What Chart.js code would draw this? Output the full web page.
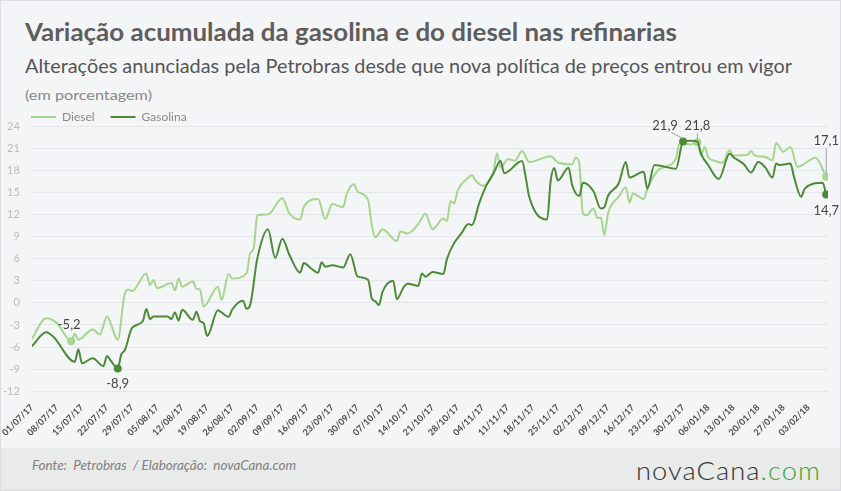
<!DOCTYPE html>
<html lang="pt-BR">
<head>
<meta charset="utf-8">
<title>Variação acumulada da gasolina e do diesel</title>
<script src="https://cdn.jsdelivr.net/npm/chart.js@4.4.1/dist/chart.umd.min.js"></script>
<style>
  body { margin: 0; background: #fff; }
  #quadro { position: relative; width: 841px; height: 491px; box-sizing: border-box; border: 1px solid #dcdde0; background: #f4f5f7; overflow: hidden; font-family: Lato, sans-serif; }
  .txt { position: absolute; white-space: nowrap; line-height: 1; transform-origin: 0 0; }
  #titulo { left: 24px; top: 19px; font-size: 24px; font-weight: 700; color: #5d5d5d; }
  #subtitulo { left: 24px; top: 55px; font-size: 19px; color: #555; }
  #unidade { left: 24px; top: 87px; font-size: 14px; color: #888; }
  #area { position: absolute; left: -11px; top: 94px; width: 851px; height: 352px; }
  #rodape { position: absolute; left: 0; top: 447px; width: 100%; height: 42px; background: #e9eaea; }
  #fonte { left: 31px; top: 459px; font-size: 12.5px; font-style: italic; color: #808080; }
  #logo { left: 635px; top: 457px; font-size: 25px; font-weight: 300; color: #333; letter-spacing: 1px; }
  #logo span { color: #3fa535; }
</style>
</head>
<body>
<div id="quadro">
  <div id="titulo" class="txt" data-w="652">Variação acumulada da gasolina e do diesel nas refinarias</div>
  <div id="subtitulo" class="txt" data-w="767">Alterações anunciadas pela Petrobras desde que nova política de preços entrou em vigor</div>
  <div id="unidade" class="txt" data-w="127">(em porcentagem)</div>
  <div id="area"><canvas id="grafico"></canvas></div>
  <div id="rodape"></div>
  <div id="fonte" class="txt" data-w="264">Fonte:&nbsp; Petrobras&nbsp; / Elaboração:&nbsp; novaCana.com</div>
  <div id="logo" class="txt" data-w="185">novaCana<span>.com</span></div>
</div>
<script>
// semanas no eixo x (dias contados a partir de 01/07/17)
const rotulos = ['01/07/17', '08/07/17', '15/07/17', '22/07/17', '29/07/17', '05/08/17', '12/08/17', '19/08/17',
  '26/08/17', '02/09/17', '09/09/17', '16/09/17', '23/09/17', '30/09/17', '07/10/17', '14/10/17', '21/10/17',
  '28/10/17', '04/11/17', '11/11/17', '18/11/17', '25/11/17', '02/12/17', '09/12/17', '16/12/17', '23/12/17',
  '30/12/17', '06/01/18', '13/01/18', '20/01/18', '27/01/18', '03/02/18'];

const diasDiesel = [0, 4, 7, 11, 12, 13, 17, 19, 21, 24, 26, 27, 28, 32, 33, 34, 35, 39, 40, 41, 42, 45, 46, 47, 48,
  52, 53, 55, 56, 60, 61, 62, 63, 66, 70, 72, 75, 76, 80, 82, 84, 87, 88, 90, 91, 94, 95, 96, 98, 102, 103, 105,
  108, 110, 112, 115, 116, 117, 118, 119, 122, 123, 124, 126, 129, 130, 131, 133, 135, 137, 139, 145, 147, 151,
  152, 153, 154, 155, 157, 158, 159, 160, 161, 164, 166, 167, 168, 171, 172, 175, 177, 180, 181, 184, 186, 187,
  188, 189, 191, 193, 195, 196, 200, 201, 202, 205, 207, 208, 210, 212, 214, 219, 222];
const diesel = [-4.9, -2.1, -2.75, -5.2, -4.2, -5.0, -3.6, -4.3, -1.85, -5.0, 1.3, 1.8, 1.6, 4.0, 2.4, 3.1, 2.0,
  2.7, 1.7, 3.3, 2.2, 2.9, 1.9, 1.8, -0.5, 2.2, 0.4, 3.9, 3.3, 4.0, 6.7, 7.4, 11.9, 12.0, 14.2, 12.1, 11.3, 13.0,
  14.1, 11.4, 13.4, 13.0, 14.8, 16.1, 15.1, 13.9, 10.5, 8.9, 10.0, 8.4, 9.7, 9.4, 10.7, 12.1, 10.0, 11.45, 11.1,
  13.8, 13.5, 15.2, 17.0, 17.3, 16.6, 15.9, 17.8, 20.3, 18.3, 19.5, 19.3, 20.6, 19.1, 19.9, 19.05, 18.8, 19.7,
  18.9, 12.1, 11.9, 12.8, 11.5, 11.6, 9.2, 12.1, 14.4, 15.7, 13.6, 14.85, 14.1, 15.5, 18.0, 18.45, 19.6, 21.6,
  21.5, 21.8, 20.0, 21.15, 19.8, 19.25, 19.0, 20.7, 20.0, 20.1, 20.6, 20.0, 19.8, 19.35, 21.7, 20.5, 21.15,
  18.45, 19.7, 17.1];

const diasGasolina = [0, 4, 6, 12, 13, 14, 17, 20, 21, 22, 24, 25, 26, 28, 31, 32, 33, 34, 38, 39, 40, 41, 42, 45,
  46, 47, 48, 49, 52, 53, 55, 56, 59, 60, 61, 63, 66, 68, 70, 72, 75, 76, 78, 80, 81, 82, 84, 87, 89, 91, 94, 95,
  96, 97, 98, 101, 102, 104, 105, 108, 109, 110, 112, 115, 116, 118, 120, 122, 123, 125, 127, 129, 131, 132, 137,
  138, 139, 144, 145, 146, 147, 150, 151, 153, 154, 157, 159, 160, 161, 164, 166, 167, 171, 172, 174, 180, 182,
  184, 186, 187, 189, 192, 195, 196, 199, 201, 203, 205, 207, 208, 209, 212, 213, 215, 216, 221, 222];
const gasolina = [-5.9, -4.0, -4.6, -8.0, -6.3, -8.2, -7.5, -8.6, -7.2, -7.8, -8.9, -7.0, -6.4, -3.4, -2.5, -0.85,
  -2.2, -1.85, -1.85, -2.2, -1.3, -2.4, -0.95, -2.3, -1.2, -2.5, -2.75, -4.5, -1.0, -1.3, -1.9, -0.9, 0.3, -0.8,
  -0.3, 6.0, 10.0, 6.1, 8.7, 6.5, 4.1, 5.4, 4.7, 4.1, 5.5, 4.9, 5.1, 4.8, 6.6, 3.6, 3.1, 0.6, 0.2, -0.3, 1.5, 3.0,
  0.5, 2.2, 2.6, 2.3, 4.0, 3.55, 4.2, 3.9, 5.95, 8.1, 9.4, 10.7, 10.55, 13.5, 15.9, 17.55, 19.25, 17.6, 19.25,
  17.1, 14.4, 11.3, 16.6, 18.3, 16.6, 18.35, 16.0, 14.5, 16.3, 15.1, 12.8, 13.0, 14.5, 16.2, 19.1, 17.0, 17.8,
  15.5, 18.7, 18.2, 21.9, 22.0, 21.9, 20.25, 18.7, 16.8, 20.25, 19.8, 18.8, 17.7, 19.1, 18.35, 17.0, 18.9, 18.7,
  18.9, 17.1, 14.4, 15.5, 16.3, 14.7];

const verdeClaro = '#a5d58e';
const verdeEscuro = '#4c8a37';

// pontos destacados: serie 0 = diesel, 1 = gasolina
const destaques = [
  { serie: 0, dia: 11, dx: -2, dy: -16 },
  { serie: 1, dia: 24, dx: 0, dy: 15 },
  { serie: 1, dia: 182, dx: -18, dy: -16, linha: -12 },
  { serie: 0, dia: 186, dx: 0, dy: -16, linha: 0 },
  { serie: 0, dia: 222, dx: 0, dy: -36, linha: 0 },
  { serie: 1, dia: 222, dx: 0, dy: 16 }
];
const diasSerie = [diasDiesel, diasGasolina];

function destacado(ctx) {
  const dia = diasSerie[ctx.datasetIndex][ctx.dataIndex];
  return destaques.some(d => d.serie === ctx.datasetIndex && d.dia === dia);
}

// fitting the html texts to the widths of the picture
document.querySelectorAll('.txt').forEach(el => {
  const w = el.getBoundingClientRect().width;
  el.style.transform = 'scaleX(' + (el.dataset.w / w) + ')';
});

const rotulosPlugin = {
  id: 'rotulos',
  afterLayout(chart) {
    chart.legend.left += 24;
  },
  afterDatasetsDraw(chart) {
    const ctx = chart.ctx;
    ctx.save();
    ctx.font = '13px Lato';
    ctx.fillStyle = '#444';
    ctx.textAlign = 'center';
    ctx.textBaseline = 'middle';
    destaques.forEach(d => {
      const i = diasSerie[d.serie].indexOf(d.dia);
      const pt = chart.getDatasetMeta(d.serie).data[i];
      const valor = chart.data.datasets[d.serie].data[i].y;
      if (d.linha !== undefined) {
        ctx.strokeStyle = '#a0a0a0';
        ctx.lineWidth = 1;
        ctx.beginPath();
        ctx.moveTo(pt.x + d.linha, pt.y + d.dy + 7);
        ctx.lineTo(pt.x, pt.y - 3);
        ctx.stroke();
      }
      ctx.fillText(valor.toFixed(1).replace('.', ','), pt.x + d.dx, pt.y + d.dy);
    });
    ctx.restore();
  }
};

const ctx = document.getElementById('grafico').getContext('2d');
new Chart(ctx, {
  type: 'line',
  data: {
    datasets: [{
      label: 'Diesel',
      data: diasDiesel.map((d, i) => ({ x: d, y: diesel[i] })),
      borderColor: verdeClaro,
      backgroundColor: verdeClaro,
      borderWidth: 2,
      cubicInterpolationMode: 'monotone',
      pointRadius: c => destacado(c) ? 4 : 0,
      pointBackgroundColor: verdeClaro,
      pointBorderWidth: 0,
      order: 1
    }, {
      label: 'Gasolina',
      data: diasGasolina.map((d, i) => ({ x: d, y: gasolina[i] })),
      borderColor: verdeEscuro,
      backgroundColor: verdeEscuro,
      borderWidth: 2,
      cubicInterpolationMode: 'monotone',
      pointRadius: c => destacado(c) ? 4 : 0,
      pointBackgroundColor: verdeEscuro,
      pointBorderWidth: 0,
      order: 0
    }]
  },
  options: {
    responsive: true,
    maintainAspectRatio: false,
    animation: false,
    layout: { padding: { left: 1, right: 13, top: 0, bottom: 6 } },
    plugins: {
      legend: {
        position: 'top',
        align: 'start',
        maxHeight: 31,
        labels: {
          boxWidth: 25,
          boxHeight: 2,
          padding: 16,
          color: '#888',
          font: { family: 'Lato', size: 12 },
          sort: (a, b) => a.datasetIndex - b.datasetIndex,
          generateLabels: chart => Chart.defaults.plugins.legend.labels.generateLabels(chart)
            .map(l => ({ ...l, lineWidth: 0 }))
        }
      },
      tooltip: { enabled: false }
    },
    scales: {
      x: {
        type: 'linear',
        min: 0,
        max: 222.5,
        grid: { display: false },
        border: { display: false },
        afterBuildTicks: axis => { axis.ticks = rotulos.map((r, i) => ({ value: i * 7 })); },
        ticks: {
          autoSkip: false,
          maxRotation: 45,
          minRotation: 45,
          padding: 3,
          color: '#4a4a4a',
          font: { family: 'Lato', size: 9, weight: 'bold' },
          callback: v => rotulos[v / 7]
        }
      },
      y: {
        min: -12,
        max: 24,
        ticks: { stepSize: 3, color: '#bbb', padding: 12, font: { family: 'Lato', size: 11 } },
        grid: { color: '#e4e6e9', drawTicks: false },
        border: { display: false }
      }
    }
  },
  plugins: [rotulosPlugin]
});
</script>
</body>
</html>
